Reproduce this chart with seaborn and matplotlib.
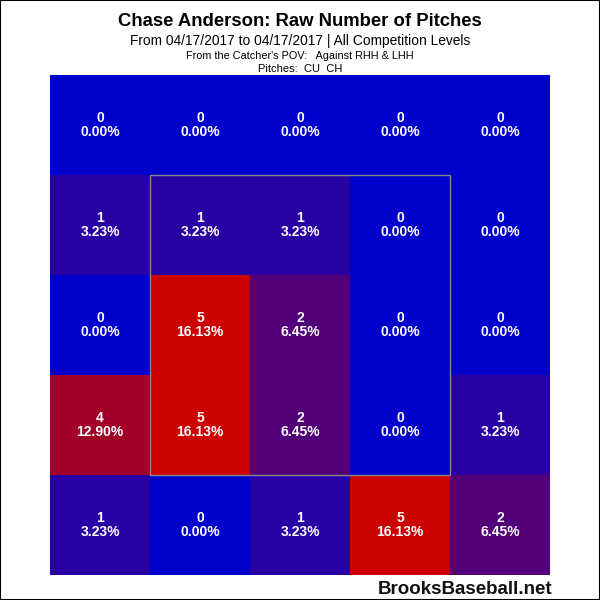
import numpy as np
import pandas as pd
import matplotlib
matplotlib.use('Agg')
import matplotlib.pyplot as plt
import seaborn as sns
from matplotlib.colors import LinearSegmentedColormap
from matplotlib.patches import Rectangle

# pitch counts by zone, catcher's POV, top row first
counts = [
    [0, 0, 0, 0, 0],
    [1, 1, 1, 0, 0],
    [0, 5, 2, 0, 0],
    [4, 5, 2, 0, 1],
    [1, 0, 1, 5, 2],
]
percents = [
    ["0.00%", "0.00%", "0.00%", "0.00%", "0.00%"],
    ["3.23%", "3.23%", "3.23%", "0.00%", "0.00%"],
    ["0.00%", "16.13%", "6.45%", "0.00%", "0.00%"],
    ["12.90%", "16.13%", "6.45%", "0.00%", "3.23%"],
    ["3.23%", "0.00%", "3.23%", "16.13%", "6.45%"],
]

title = "Chase Anderson: Raw Number of Pitches"
subtitle = "From 04/17/2017 to 04/17/2017 | All Competition Levels"
pov_line = "From the Catcher's POV:   Against RHH & LHH"
pitch_line = "Pitches:  CU  CH"


def draw_zone():
    sns.set_style('white')
    plt.rcParams['font.family'] = ['Liberation Sans', 'DejaVu Sans']
    plt.rcParams['text.color'] = 'black'

    dataframe = pd.DataFrame(counts)
    labels = np.array([[f"{c}\n{p}" for c, p in zip(rc, rp)]
                       for rc, rp in zip(counts, percents)])
    cmap = LinearSegmentedColormap.from_list('br', ['#0000CC', '#CC0000'])

    fig = plt.figure(figsize=(6, 6), dpi=100)
    ax = fig.add_axes([50 / 600, 25 / 600, 500 / 600, 500 / 600])
    sns.heatmap(dataframe, ax=ax, cmap=cmap, vmin=0, vmax=5, cbar=False,
                annot=labels, fmt='', square=False,
                annot_kws={'color': 'white', 'fontsize': 10, 'fontweight': 'bold',
                           'linespacing': 1.05})
    ax.set_xticks([])
    ax.set_yticks([])
    ax.set_xlabel('')
    ax.set_ylabel('')

    # strike zone
    ax.add_patch(Rectangle((1, 1), 3, 3, fill=False, edgecolor='#888888', lw=1))

    fig.text(0.5, 1 - 21 / 600, title, ha='center', va='center',
             fontsize=13.3, fontweight='bold')
    fig.text(0.5, 1 - 41 / 600, subtitle, ha='center', va='center', fontsize=9.9)
    fig.text(0.5, 1 - 56 / 600, pov_line, ha='center', va='center', fontsize=7.8)
    fig.text(0.5, 1 - 69 / 600, pitch_line, ha='center', va='center', fontsize=8)
    fig.text(552 / 600, 1 - 589 / 600, "BrooksBaseball.net", ha='right', va='center',
             fontsize=13.5, fontweight='bold', color='#111111')

    # outer frame
    fig.patches.append(Rectangle((0, 0), 1, 1, transform=fig.transFigure,
                                 fill=False, edgecolor='black', lw=1.5))
    fig.savefig('out.png', dpi=100)


if __name__ == '__main__':
    draw_zone()
